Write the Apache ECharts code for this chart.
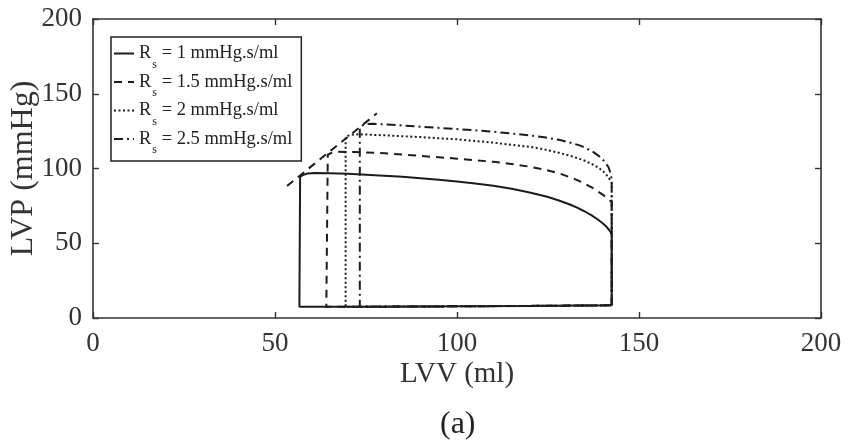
<!DOCTYPE html>
<html>
<head>
<meta charset="utf-8">
<script src="https://cdn.jsdelivr.net/npm/echarts@6/dist/echarts.min.js"></script>
<style>
  html, body { margin: 0; padding: 0; background: #fff; }
  #chart { width: 846px; height: 445px; }
</style>
</head>
<body>
<div id="chart"></div>
<script>
// Axis ticks (LVV in ml, LVP in mmHg)
const xTicks = [0, 50, 100, 150, 200];
const yTicks = [0, 50, 100, 150, 200];

// Systemic resistance values for each loop
const rsValues = ['1', '1.5', '2', '2.5'];

// Pressure–volume loops, points as [LVV, LVP]
const loopRs1 = [
  [142.5, 8.5], [142.5, 56], [142, 58.3], [141, 61.2], [140, 63.4], [138.5, 66.2],
  [137, 68.6], [135, 71.4], [133, 73.8], [131, 75.9], [128, 78.6], [125, 80.9],
  [122, 82.8], [119, 84.5], [115, 86.4], [110, 88.4], [105, 90], [100, 91.3],
  [95, 92.5], [90, 93.5], [85, 94.4], [80, 95.2], [75, 95.9], [70, 96.5],
  [65, 96.9], [61, 97], [59, 96.6], [57.8, 95.8], [56.9, 94.5], [56.7, 93.5],
  [56.7, 7.5], [80, 7.6], [100, 7.8], [120, 8.1], [142.5, 8.5]
];
const loopRs15 = [
  [142.5, 8.5], [142.5, 77.5], [142.2, 78.3], [141.2, 80.5], [140, 82.5], [137.6, 86.5],
  [135, 90], [132, 93.3], [128, 96.8], [124, 99.3], [120, 101.2], [115, 103],
  [110, 104.5], [100, 106.6], [90, 108.4], [80, 110.2], [72, 111], [67, 111.2],
  [65.5, 110.5], [64.5, 109.2], [64.1, 108], [64.1, 7.6], [80, 7.6], [100, 7.8],
  [120, 8.1], [142.5, 8.5]
];
const loopRs2 = [
  [142.5, 8.5], [142.5, 90.5], [142.2, 91.5], [141.5, 94.5], [140.3, 97.8], [139, 100.3],
  [137.6, 102.3], [135.5, 104.8], [133.9, 106.3], [131, 108.6], [128, 110.5], [124, 112.8],
  [120, 114.5], [110, 117.3], [100, 119.5], [90, 121], [80, 122.2], [73, 122.9],
  [71, 122.6], [70, 121.8], [69.4, 120.3], [69.4, 7.6], [80, 7.6], [100, 7.8],
  [120, 8.1], [142.5, 8.5]
];
const loopRs25 = [
  [142.5, 8.5], [142.5, 92], [142.3, 96], [141.6, 101], [140.3, 105.3], [139, 108.3],
  [137.6, 110.8], [135.5, 113.6], [133.9, 115.3], [131, 117.4], [128, 119.2], [124, 120.9],
  [120, 122.2], [110, 124.6], [100, 126.4], [90, 128], [80, 129.5], [77, 130],
  [75, 129.6], [74, 128.8], [73.3, 127.6], [73.3, 7.6], [100, 7.8], [120, 8.1],
  [142.5, 8.5]
];
// End-systolic pressure–volume relation
const espvrLine = [[53.3, 88.3], [78, 136.9]];

const loops = [loopRs1, loopRs15, loopRs2, loopRs25];
const dashPatterns = ['solid', [8, 6], [2, 2.5], [9, 4, 2, 4]];

const serif = '"Liberation Serif", "Times New Roman", serif';
const ink = '#1c1c1c';
const frame = '#333333';

const seriesNames = rsValues.map(v => 'Rs = ' + v + ' mmHg.s/ml');

function frameAxis(position, showLabels, extra) {
  return Object.assign({
    type: 'value',
    position: position,
    min: xTicks[0],
    max: xTicks[xTicks.length - 1],
    interval: xTicks[1] - xTicks[0],
    axisLine: { show: true, onZero: false, lineStyle: { color: frame, width: 1.6 } },
    axisTick: { show: true, inside: true, length: 6, lineStyle: { color: frame, width: 1.4 } },
    axisLabel: { show: showLabels, fontFamily: serif, fontSize: 27, color: '#333' },
    splitLine: { show: false }
  }, extra || {});
}

const chart = echarts.init(document.getElementById('chart'), null, { renderer: 'canvas' });

const series = loops.map((pts, i) => ({
  name: seriesNames[i],
  type: 'line',
  data: pts,
  xAxisIndex: 0,
  yAxisIndex: 0,
  symbol: 'none',
  smooth: false,
  lineStyle: { color: ink, width: 2, type: dashPatterns[i] },
  itemStyle: { color: ink },
  z: 3 + i
}));
series.push({
  name: 'ESPVR',
  type: 'line',
  data: espvrLine,
  xAxisIndex: 0,
  yAxisIndex: 0,
  symbol: 'none',
  lineStyle: { color: ink, width: 2, type: [8, 6] },
  z: 2
});

chart.setOption({
  animation: false,
  backgroundColor: '#ffffff',
  title: {
    text: '(a)',
    left: 440,
    top: 409,
    padding: 0,
    textStyle: { fontFamily: serif, fontSize: 32, fontWeight: 'normal', color: '#222' }
  },
  grid: { left: 93, right: 25, top: 19, bottom: 127, containLabel: false, outerBoundsMode: 'none' },
  legend: {
    data: seriesNames,
    orient: 'vertical',
    left: 111,
    top: 37,
    itemWidth: 20,
    itemHeight: 10,
    itemGap: 2,
    padding: [7, 9, 5, 2],
    borderColor: '#222',
    borderWidth: 1.5,
    backgroundColor: '#fff',
    selectedMode: false,
    itemStyle: { opacity: 0, borderWidth: 0 },
    formatter: name => {
      const v = rsValues[seriesNames.indexOf(name)];
      return '{r|R}{s|s}{r| = ' + v + ' mmHg.s/ml}';
    },
    textStyle: {
      fontFamily: serif,
      fontSize: 18.5,
      color: '#222',
      rich: {
        r: { fontFamily: serif, fontSize: 18.5, color: '#222', verticalAlign: 'middle' },
        s: { fontFamily: serif, fontSize: 12, color: '#222', verticalAlign: 'middle', padding: [22, 0, 0, 1] }
      }
    }
  },
  xAxis: [
    frameAxis('bottom', true, {
      axisLabel: { show: true, margin: 12, fontFamily: serif, fontSize: 27, color: '#333' },
      name: 'LVV (ml)',
      nameLocation: 'middle',
      nameGap: 42,
      nameMoveOverlap: false,
      nameTextStyle: { fontFamily: serif, fontSize: 29, color: '#333' }
    }),
    frameAxis('top', false)
  ],
  yAxis: [
    frameAxis('left', true, {
      min: yTicks[0],
      max: yTicks[yTicks.length - 1],
      interval: yTicks[1] - yTicks[0],
      axisLabel: { show: true, margin: 11, fontFamily: serif, fontSize: 27, color: '#333' },
      name: 'LVP (mmHg)',
      nameLocation: 'middle',
      nameGap: 53,
      nameMoveOverlap: false,
      nameTextStyle: { fontFamily: serif, fontSize: 32, color: '#333' }
    }),
    frameAxis('right', false, {
      min: yTicks[0],
      max: yTicks[yTicks.length - 1],
      interval: yTicks[1] - yTicks[0]
    })
  ],
  series: series
});
</script>
</body>
</html>
